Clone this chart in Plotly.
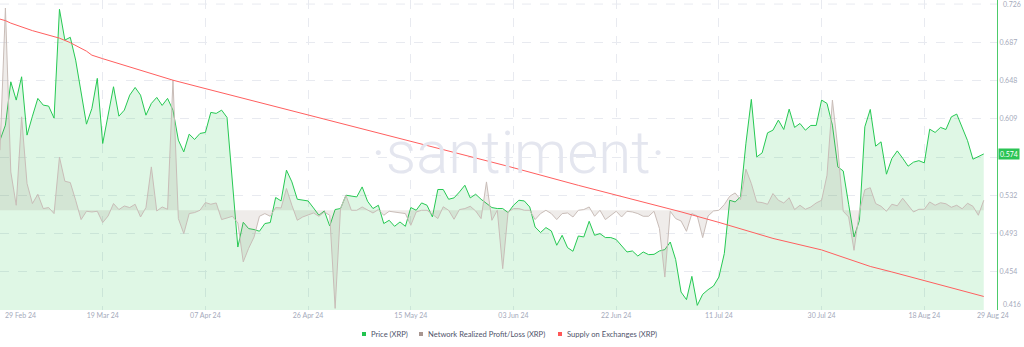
import pandas as pd
import plotly.graph_objects as go

START = "2024-02-29"

price = [
    0.5881, 0.6033, 0.6472, 0.6287, 0.6523, 0.5932, 0.6124, 0.6304, 0.6236, 0.6226,
    0.6104, 0.7207, 0.6895, 0.6923, 0.6692, 0.6368, 0.6043, 0.6202, 0.6507, 0.5847,
    0.6134, 0.6422, 0.6124, 0.6185, 0.6337, 0.6415, 0.6337, 0.6134, 0.6253, 0.6314,
    0.6233, 0.6304, 0.6185, 0.5881, 0.5762, 0.5942, 0.5888, 0.5949, 0.5959, 0.6162,
    0.6152, 0.6185, 0.6111, 0.5455, 0.4798, 0.5049, 0.4985, 0.4975, 0.4958, 0.5036,
    0.5046, 0.5300, 0.5265, 0.5577, 0.5458, 0.5282, 0.5272, 0.5265, 0.5194, 0.5120,
    0.5164, 0.5011, 0.5178, 0.5188, 0.5323, 0.5313, 0.5306, 0.5407, 0.5262, 0.5188,
    0.5221, 0.5036, 0.5069, 0.5008, 0.5052, 0.5008, 0.5198, 0.5171, 0.5245, 0.5221,
    0.5103, 0.5381, 0.5381, 0.5282, 0.5296, 0.5356, 0.5424, 0.5296, 0.5333, 0.5282,
    0.5239, 0.5198, 0.5188, 0.5188, 0.5147, 0.5221, 0.5272, 0.5265, 0.5204, 0.5001,
    0.4945, 0.4995, 0.4961, 0.4816, 0.4917, 0.4792, 0.4755, 0.4910, 0.4900, 0.5059,
    0.4917, 0.4934, 0.4894, 0.4894, 0.4874, 0.4809, 0.4748, 0.4758, 0.4707, 0.4748,
    0.4721, 0.4724, 0.4758, 0.4772, 0.4849, 0.4671, 0.4342, 0.4265, 0.4501, 0.4207,
    0.4319, 0.4366, 0.4403, 0.4494, 0.4732, 0.5272, 0.5255, 0.5306, 0.5850, 0.6294,
    0.5711, 0.5752, 0.5955, 0.5982, 0.6084, 0.5989, 0.6195, 0.6010, 0.6050, 0.5982,
    0.6030, 0.6030, 0.6287, 0.6253, 0.6033, 0.5610, 0.5569, 0.5232, 0.4900, 0.5069,
    0.6016, 0.6192, 0.5820, 0.5864, 0.5536, 0.5695, 0.5772, 0.5698, 0.5617, 0.5658,
    0.5673, 0.5651, 0.5992, 0.5959, 0.6010, 0.5989, 0.6117, 0.6145, 0.6016, 0.5876,
    0.5688, 0.5713, 0.5741,
]

nrpl = [
    120, 404, 76.6, 10, 186.6, 53.4, 13.4, 32, 3.4, 5.4,
    -6.6, 106, 58, 55.4, 20, -18.6, -2, -3.4, -2, -24.6,
    -11.4, 13.4, 1.4, 8.6, 5.4, 12, -13.4, 5.4, 86.6, -1.4,
    6.6, 2, 260, -16.6, -46.6, -6.6, -4.6, 0, 15.4, 12,
    14.6, -18.6, -15.4, -12, -25.4, -103, -76, -53.4, -12, -6.6,
    -12, 5.4, 4.6, 43.4, 10, -20, -13.4, -10, -5.4, -12,
    -3.4, -10, -196, 3.4, 30, 0, 0, 6.6, 0, -5.4,
    1.4, -10, -2, -3.4, -5.4, -6.6, -30, -3.4, 0, 0,
    -8, -16.6, 7, 0, -18, 1.4, 3.4, 8, -1.4, -16.6,
    56.6, -20, 0, -116.6, -3.4, 3.4, 3.4, 0, 0, -18.6,
    -6.6, 0, -6.6, -18.6, -6.6, -5.4, -13.4, 0, 1.4, 6.6,
    -12, 0, -18.6, -10, -2, -13.4, -2, -3.4, -6.6, -12,
    -12, -2, -36.6, -133.4, -2, -16.6, -21.4, -42, -6.6, -11.4,
    -54.6, -11.4, -1.4, 0, 11.4, 28, 34.6, 21.4, 82, 53.4,
    16.6, 15.4, 12, 33.4, 20, 14.6, 25, 1.4, 10, 2,
    6.6, 14.6, 20, 70, 220, 124, -2, -13.4, -80, -2,
    41, 45, 13.4, 8, -2, 12, 9, 24, 10, -3.4,
    2, 2, 16.6, 10, 15, 13, 6, 10, 3, 14,
    8, -10, 20,
]

supply_day = [0, 1, 2, 4, 6, 11, 13, 16, 17, 19, 25, 32, 37, 46, 57, 70, 83, 94,
              107, 120, 126, 133, 143, 152, 160, 161, 165, 178, 182]
supply = [3.881, 3.878, 3.873, 3.866, 3.858, 3.843, 3.834, 3.817, 3.809, 3.802,
          3.782, 3.759, 3.745, 3.720, 3.689, 3.653, 3.618, 3.587, 3.549, 3.513,
          3.496, 3.475, 3.443, 3.420, 3.392, 3.387, 3.376, 3.339, 3.327]

tick_dates = ["2024-03-19", "2024-04-07", "2024-04-26", "2024-05-15", "2024-06-03",
              "2024-06-22", "2024-07-11", "2024-07-30", "2024-08-18"]
tick_text = ["19 Mar 24", "07 Apr 24", "26 Apr 24", "15 May 24", "03 Jun 24",
             "22 Jun 24", "11 Jul 24", "30 Jul 24", "18 Aug 24"]
first_label, last_label = "29 Feb 24", "29 Aug 24"

price_ticks = [0.45475, 0.4935, 0.53225, 0.571, 0.60975, 0.6485, 0.68725, 0.726]
price_ticktext = ["0.454", "0.493", "0.532", "0.571", "0.609", "0.648", "0.687", "0.726"]
bottom_tick_text = "0.416"

start = pd.Timestamp(START)
dates = [start + pd.Timedelta(days=i) for i in range(len(price))]
supply_dates = [start + pd.Timedelta(days=d) for d in supply_day]

GREEN = "#26C953"
GREY = "#C9BDB8"
RED = "#FF5F5F"
LABEL = "#A5AABB"
GRID = "#E8EAF0"
FONT = "Lato"
TICK = 7

W, H = 1024, 347
L, R, T, B = 0, 27, 0, 37
PW, PH = W - L - R, H - T - B


def px(x):
    return (x - L) / PW


def py(y):
    return (H - B - y) / PH


fig = go.Figure()
fig.add_trace(go.Scatter(
    x=dates, y=price, mode="lines", line=dict(color=GREEN, width=1),
    fill="tozeroy", fillcolor="rgba(38,201,83,0.15)", yaxis="y", name="Price (XRP)"))
fig.add_trace(go.Scatter(
    x=dates, y=nrpl, mode="lines", line=dict(color=GREY, width=1),
    fill="tozeroy", fillcolor="rgba(150,125,115,0.15)", yaxis="y2",
    name="Network Realized Profit/Loss (XRP)"))
fig.add_trace(go.Scatter(
    x=supply_dates, y=supply, mode="lines", line=dict(color=RED, width=1),
    yaxis="y3", name="Supply on Exchanges (XRP)"))

x_end = start + pd.Timedelta(days=184.45)

fig.update_layout(
    width=W, height=H, margin=dict(l=L, r=R, t=T, b=B),
    paper_bgcolor="white", plot_bgcolor="white", showlegend=False,
    font=dict(family=FONT, size=TICK, color=LABEL),
    xaxis=dict(type="date", range=[start, x_end], tickvals=tick_dates, ticktext=tick_text,
               showgrid=True, gridcolor=GRID, griddash="dash", gridwidth=1,
               zeroline=False, showline=False, ticks="", tickfont=dict(size=TICK, color=LABEL)),
    yaxis=dict(range=[0.416, 0.7301], side="right", tickvals=price_ticks[:-1],
               ticktext=price_ticktext[:-1], showgrid=True, gridcolor=GRID, griddash="dash",
               zeroline=False, showline=True, linecolor="#4CCB6A", linewidth=1, ticks="",
               tickfont=dict(size=TICK, color=LABEL)),
    yaxis2=dict(range=[-199.2, 420], overlaying="y", visible=False),
    yaxis3=dict(range=[3.300, 3.9192], overlaying="y", visible=False),
)

shapes = [dict(type="line", xref="paper", yref="y", x0=0, x1=1,
               y0=price_ticks[-1], y1=price_ticks[-1], layer="below",
               line=dict(color=GRID, width=1, dash="dash"))]

ann = []
ann.append(dict(x=px(1001), y=price_ticks[-1], xref="paper", yref="y",
                text=price_ticktext[-1], showarrow=False, xanchor="left", yanchor="middle",
                font=dict(size=TICK, color=LABEL, family=FONT)))
ann.append(dict(x=px(3), y=py(315), xref="paper", yref="paper", text=first_label,
                showarrow=False, xanchor="left", yanchor="middle",
                font=dict(size=TICK, color=LABEL, family=FONT)))
ann.append(dict(x=px(993), y=py(315), xref="paper", yref="paper", text=last_label,
                showarrow=False, xanchor="center", yanchor="middle",
                font=dict(size=TICK, color=LABEL, family=FONT)))
ann.append(dict(x=px(1001), y=py(304), xref="paper", yref="paper", text=bottom_tick_text,
                showarrow=False, xanchor="left", yanchor="middle",
                font=dict(size=TICK, color=LABEL, family=FONT)))
ann.append(dict(x=px(998), y=price[-1], xref="paper", yref="y", text=f"{price[-1]:.3f}",
                showarrow=False, xanchor="left", yanchor="middle", bgcolor="#2BC455",
                borderpad=1, font=dict(size=TICK, color="white", family=FONT)))
ann.append(dict(x=px(518), y=py(152), xref="paper", yref="paper", text="·santiment·",
                showarrow=False, xanchor="center", yanchor="middle",
                font=dict(size=60, color="#E4E6EF", family="Roboto", weight=300)))

legend_items = [("Price (XRP)", "#22C34F", 362, 369),
                ("Network Realized Profit/Loss (XRP)", "#A89690", 419, 426),
                ("Supply on Exchanges (XRP)", "#FF5757", 558, 565)]
for text, color, sx, tx in legend_items:
    shapes.append(dict(type="rect", xref="paper", yref="paper",
                       x0=px(sx), x1=px(sx + 4), y0=py(336), y1=py(332),
                       fillcolor=color, line=dict(width=0)))
    ann.append(dict(x=px(tx), y=py(334), xref="paper", yref="paper", text=text,
                    showarrow=False, xanchor="left", yanchor="middle",
                    font=dict(size=7.6, color="#4F546B", family=FONT)))

fig.update_layout(annotations=ann, shapes=shapes)
fig.write_html("out.html")
